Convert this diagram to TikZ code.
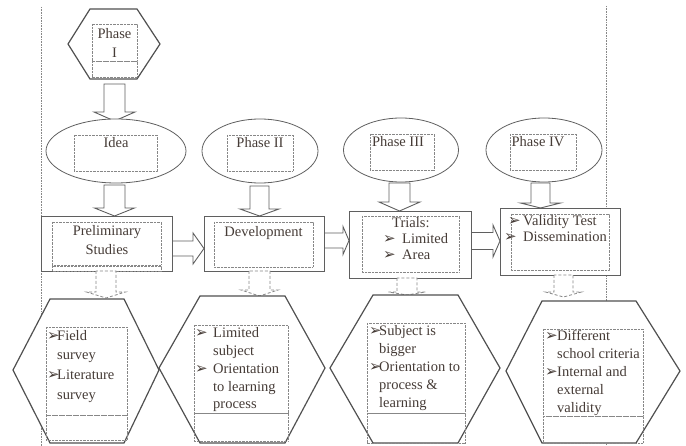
\documentclass[tikz,border=0pt]{standalone}
\usepackage{fontspec}
\setmainfont{Liberation Serif}
\newfontfamily\symfont{DejaVu Sans}
\usetikzlibrary{shapes.geometric}
\definecolor{txtc}{RGB}{70,60,55}
\definecolor{linec}{RGB}{95,95,95}
\definecolor{hexc}{RGB}{80,80,80}
\definecolor{dotc}{RGB}{135,135,135}
\newcommand{\bul}{{\symfont\fontsize{15}{15}\selectfont ➢}}
\newcommand{\bitem}[2]{\makebox[#1][l]{\bul}#2}
\newcommand{\bcont}[2]{\hspace*{#1}#2}
\newcommand{\barrowv}[7]{\draw[#1] ({#2-#6},#3) -- ({#2-#6},#4) -- ({#2-#7},#4) -- (#2,#5) -- ({#2+#7},#4) -- ({#2+#6},#4) -- ({#2+#6},#3) -- cycle;}
\newcommand{\barrowh}[7]{\draw[#1] (#3,{#2-#6}) -- (#4,{#2-#6}) -- (#4,{#2-#7}) -- (#5,#2) -- (#4,{#2+#7}) -- (#4,{#2+#6}) -- (#3,{#2+#6}) -- cycle;}
\begin{document}
\begin{tikzpicture}[x=1pt,y=-1pt,
  hexline/.style={draw=hexc,line width=1.2pt,fill=white,line join=miter},
  boxline/.style={draw=linec,line width=0.9pt,fill=white},
  blockarrow/.style={draw=linec,line width=0.9pt,fill=white,line join=miter},
  dasharrow/.style={draw=dotc,line width=0.8pt,dash pattern=on 3pt off 2pt,fill=white},
  ellnode/.style={ellipse,draw=linec,line width=0.8pt,fill=white,inner sep=0pt},
  dotbox/.style={draw=dotc,line width=0.6pt,dash pattern=on 0.7pt off 0.7pt},
  vline/.style={draw=dotc,line width=0.7pt,dash pattern=on 0.8pt off 0.8pt},
  txt/.style={text=txtc,inner sep=0pt,font=\fontsize{14.5}{18}\selectfont}
]
\useasboundingbox (0,0) rectangle (686,446);
% dotted column lines
\coordinate (vl1) at (41,7);
\coordinate (vl2) at (41,446);
\coordinate (vr1) at (606,6);
\coordinate (vr2) at (606,446);
\draw[vline] (vl1) -- (vl2);
\draw[vline] (vr1) -- (vr2);

% Phase I hexagon
\draw[hexline] (68,44) -- (90,9) -- (137,9) -- (160,44) -- (137,79) -- (90,79) -- cycle;
\draw[dotbox] (92,24) rectangle (137,61);
\draw[dotbox] (92,61) rectangle (137,77);
\node[txt,align=center,anchor=north,font=\fontsize{14.5}{19}\selectfont] (p1t) at (114.5,25.5) {\strut Phase\\I};

% arrow Phase I -> Idea
\barrowv{blockarrow}{114.5}{84}{112}{121}{10.5}{20.5}

% ellipses
\node[ellnode,minimum width=140pt,minimum height=64pt] (idea) at (116,151) {};
\node[ellnode,minimum width=116pt,minimum height=64pt] (ph2) at (260,151) {};
\node[ellnode,minimum width=115pt,minimum height=64pt] (ph3) at (401,150) {};
\node[ellnode,minimum width=116pt,minimum height=64pt] (ph4) at (544,150) {};
\draw[dotbox] (74,135) rectangle (157,171);
\draw[dotbox] (227,135) rectangle (293,171);
\draw[dotbox] (370,134) rectangle (434,170);
\draw[dotbox] (510,134) rectangle (576,170);
\node[txt,anchor=base] (ideat) at (116,148) {Idea};
\node[txt,anchor=base] (ph2t) at (260,148) {Phase II};
\node[txt,anchor=base] (ph3t) at (398,147) {Phase III};
\node[txt,anchor=base] (ph4t) at (538,147) {Phase IV};

% down arrows to boxes
\barrowv{blockarrow}{114.5}{185}{208}{216}{10.5}{20}
\barrowv{blockarrow}{259.5}{186}{209}{216}{9.5}{19.5}
\barrowv{blockarrow}{399.5}{183}{202}{211}{10.5}{20.5}
\barrowv{blockarrow}{540.5}{183}{203}{208}{9.5}{20}

% horizontal arrows
\barrowh{blockarrow}{248.5}{172}{193}{204}{7.5}{15.5}
\barrowh{blockarrow}{240.5}{324}{343}{349}{7.5}{14}
\barrowh{blockarrow}{241}{471}{493}{500}{8.5}{16}

% boxes
\draw[boxline] (41,216) rectangle (172,271);
\draw[dotbox] (52,222) rectangle (161,265);
\draw[dotbox] (52,266) rectangle (161,271);
\node[txt,align=center,anchor=north,font=\fontsize{14.5}{19}\selectfont] (prelim) at (107,222.5) {\strut Preliminary\\Studies};

\draw[boxline] (204,216) rectangle (324,271);
\draw[dotbox] (214,222) rectangle (313,267);
\node[txt,anchor=base] (dev) at (263.5,236.5) {Development};

\draw[boxline] (349,211) rectangle (471,278);
\draw[dotbox] (362,216) rectangle (459,272);
\node[txt,align=left,anchor=north west,font=\fontsize{14.5}{16}\selectfont] (trials) at (383,216.6) {\strut\bcont{9pt}{Trials:}\\\bitem{19pt}{Limited}\\\bitem{19pt}{Area}};

\draw[boxline] (500,208) rectangle (620,275);
\draw[dotbox] (511,214) rectangle (609,270);
\node[txt,align=left,anchor=north west,font=\fontsize{14.5}{16}\selectfont] (valid) at (504,214.6) {\strut\hspace*{4pt}\bitem{15pt}{Validity Test}\\\bitem{19pt}{Dissemination}};

% dashed arrows to hexagons
\barrowv{dasharrow}{106}{271}{292}{298}{10}{19.5}
\barrowv{dasharrow}{259.5}{271}{290}{296}{10.5}{18.5}
\barrowv{dasharrow}{407}{278}{292}{295}{10}{18.5}
\barrowv{dasharrow}{563.5}{275}{292}{297}{9.5}{18}

% bottom hexagons
\draw[hexline] (13,370) -- (50,299) -- (124,299) -- (159,370) -- (124,443) -- (50,443) -- cycle;
\draw[hexline] (159,368) -- (200,296) -- (285,296) -- (325,368) -- (285,443) -- (200,443) -- cycle;
\draw[hexline] (330,368) -- (373,295) -- (458,295) -- (500,368) -- (458,443) -- (373,443) -- cycle;
\draw[hexline] (506,371) -- (542,301) -- (636,301) -- (680,371) -- (636,443) -- (542,443) -- cycle;

\draw[dotbox] (46,327) rectangle (127,415);
\draw[dotbox] (46,415) rectangle (127,440);
\draw[dotbox] (194,325) rectangle (288,413);
\draw[dotbox] (194,413) rectangle (288,441);
\draw[dotbox] (367,323) rectangle (465,413);
\draw[dotbox] (367,413) rectangle (465,443);
\draw[dotbox] (543,329) rectangle (643,416);
\draw[dotbox] (543,416) rectangle (643,443);

\node[txt,align=left,anchor=north west,font=\fontsize{14.5}{19.7}\selectfont] (h1t) at (47,326.2)
  {\strut\bitem{10pt}{Field}\\\bcont{10pt}{survey}\\\bitem{10pt}{Literature}\\\bcont{10pt}{survey}};
\node[txt,align=left,anchor=north west,font=\fontsize{14.5}{17.8}\selectfont] (h2t) at (195,325)
  {\strut\bitem{18pt}{Limited}\\\bcont{18pt}{subject}\\\bitem{18pt}{Orientation}\\\bcont{18pt}{to learning}\\\bcont{18pt}{process}};
\node[txt,align=left,anchor=north west,font=\fontsize{14.5}{18}\selectfont] (h3t) at (369,322.9)
  {\strut\bitem{10pt}{Subject is}\\\bcont{10pt}{bigger}\\\bitem{10pt}{Orientation to}\\\bcont{10pt}{process \&}\\\bcont{10pt}{learning}};
\node[txt,align=left,anchor=north west,font=\fontsize{14.5}{18}\selectfont] (h4t) at (545,327.9)
  {\strut\bitem{12pt}{Different}\\\bcont{12pt}{school criteria}\\\bitem{12pt}{Internal and}\\\bcont{12pt}{external}\\\bcont{12pt}{validity}};
\end{tikzpicture}
\end{document}
